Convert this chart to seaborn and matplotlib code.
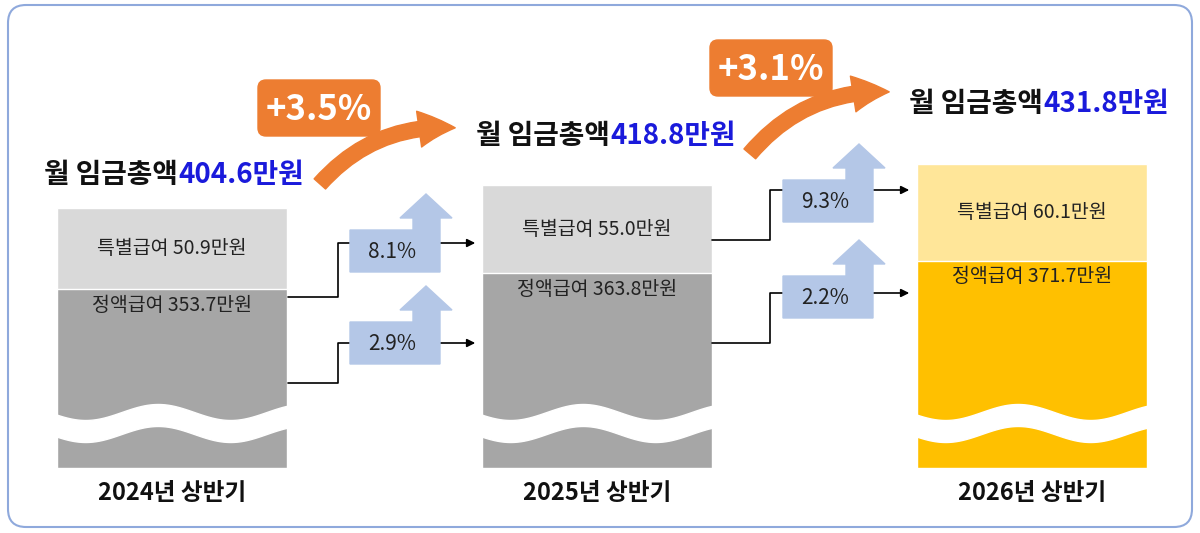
import numpy as np
import pandas as pd
import seaborn as sns
import matplotlib.pyplot as plt
from matplotlib.patches import FancyBboxPatch, FancyArrowPatch, Polygon

# data (만원)
years = ['2024년 상반기', '2025년 상반기', '2026년 상반기']
regular = [353.7, 363.8, 371.7]
special = [50.9, 55.0, 60.1]
total = [404.6, 418.8, 431.8]
total_growth = ['+3.5%', '+3.1%']
special_growth = ['8.1%', '9.3%']
regular_growth = ['2.9%', '2.2%']

sns.set_theme(style='white')
plt.rcParams['font.family'] = ['Noto Sans CJK KR', 'DejaVu Sans']

fig = plt.figure(figsize=(12, 5.33), dpi=100)
ax = fig.add_axes([0, 0, 1, 1])
centers = [172, 597, 1032]
df = pd.DataFrame({'x': centers, 'year': years, 'total': total, 'regular': regular})
pal_top = dict(zip(years, ['#d9d9d9', '#d9d9d9', '#ffe699']))
pal_bot = dict(zip(years, ['#a6a6a6', '#a6a6a6', '#ffc000']))
sns.barplot(data=df, x='x', y='total', hue='year', palette=pal_top, native_scale=True,
            width=0.54, legend=False, ax=ax, saturation=1)
sns.barplot(data=df, x='x', y='regular', hue='year', palette=pal_bot, native_scale=True,
            width=0.54, legend=False, ax=ax, saturation=1)
ax.set_xlim(0, 1200)
ax.set_ylim(201.5, 534.6)
ax.axis('off')

# labels inside bars
for i in range(3):
    ax.text(centers[i], (total[i] + regular[i]) / 2, f'특별급여 {special[i]:.1f}만원',
            ha='center', va='center', fontsize=14, color='#222222')
    ax.text(centers[i], regular[i] - 10, f'정액급여 {regular[i]:.1f}만원',
            ha='center', va='center', fontsize=14, color='#222222')

# overlay in pixel coordinates for decorations
ov = fig.add_axes([0, 0, 1, 1])
ov.set_xlim(0, 1200)
ov.set_ylim(533, 0)
ov.axis('off')
ov.patch.set_alpha(0)

# wavy break + cut bottom
xs = np.linspace(0, 1, 200)
for c in centers:
    xx = c - 116 + xs * 232
    wave = 8 * np.sin(xs * 2 * np.pi * 1.6 + 0.3)
    ov.fill_between(xx, 412 + wave, 434 + wave, color='white', zorder=3)
    ov.fill_between(xx, 468, 533, color='white', zorder=3)

for c, y in zip(centers, years):
    ov.text(c, 493, y, ha='center', va='center', fontsize=17, fontweight='bold', color='#111111')

# totals
for split, yy, t in [(178, 175, total[0]), (610, 136, total[1]), (1043, 104, total[2])]:
    ov.text(split, yy, '월 임금총액', ha='right', va='center', fontsize=20, fontweight='bold', color='#111111')
    ov.text(split, yy, f'{t:.1f}만원', ha='left', va='center', fontsize=20, fontweight='bold', color='#1a1adb')

# connectors
def connector(x0, y0, xm, y1, x1):
    ov.plot([x0, xm, xm, x1 - 8], [y0, y0, y1, y1], color='black', lw=1.2, zorder=4)
    ov.annotate('', xy=(x1, y1), xytext=(x1 - 12, y1),
                arrowprops=dict(arrowstyle='-|>', color='black', lw=1.2), zorder=4)

connector(288, 297, 338, 243, 478)
connector(288, 383, 338, 343, 478)
connector(712, 240, 770, 190, 912)
connector(712, 343, 770, 293, 912)

def blue_box(x0, top, label):
    pts = [(x0, top + 42), (x0 + 90, top + 42), (x0 + 90, top - 12), (x0 + 102, top - 12),
           (x0 + 76, top - 36), (x0 + 50, top - 12), (x0 + 63, top - 12), (x0 + 63, top), (x0, top)]
    ov.add_patch(Polygon(pts, closed=True, color='#b4c7e7', zorder=5))
    ov.text(x0 + 42, top + 22, label, ha='center', va='center', fontsize=15, color='#222222', zorder=6)

blue_box(350, 230, special_growth[0])
blue_box(350, 322, regular_growth[0])
blue_box(783, 180, special_growth[1])
blue_box(783, 276, regular_growth[1])

# orange growth boxes and arrows
for (bx, by), (p0, p1), lab in [((258, 80), ((318, 186), (458, 128)), total_growth[0]),
                                ((710, 40), ((748, 156), (892, 92)), total_growth[1])]:
    ov.add_patch(FancyBboxPatch((bx, by), 122, 56, boxstyle='round,pad=0,rounding_size=8',
                                color='#ed7d31', zorder=5))
    ov.text(bx + 61, by + 29, lab, ha='center', va='center', fontsize=25, fontweight='bold',
            color='white', zorder=6)
    ov.add_patch(FancyArrowPatch(p0, p1, connectionstyle='arc3,rad=-0.25',
                                 arrowstyle='simple,head_width=26,head_length=26,tail_width=11',
                                 color='#ed7d31', zorder=5, mutation_scale=1))

ov.add_patch(FancyBboxPatch((8, 5), 1184, 522, boxstyle='round,pad=0,rounding_size=18',
                            facecolor='none', edgecolor='#8fa9dc', lw=1.5, zorder=7))

fig.savefig('out.png', dpi=100)
